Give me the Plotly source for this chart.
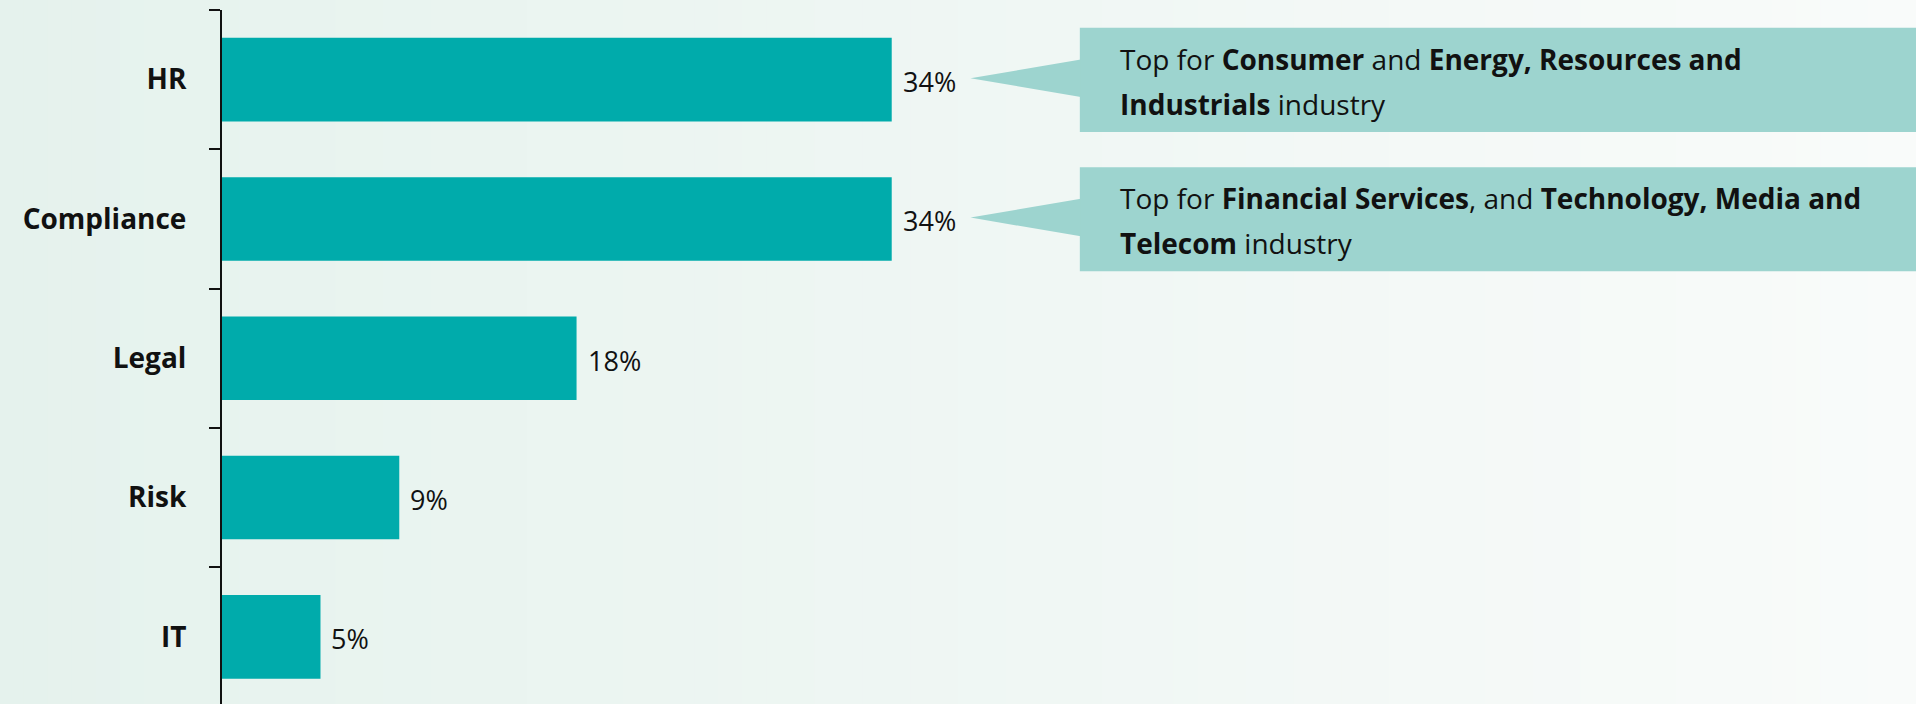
import plotly.graph_objects as go

# Survey results: share of respondents naming each function as owner
categories = ["HR", "Compliance", "Legal", "Risk", "IT"]
shares = [34, 34, 18, 9, 5]

# Callout notes attached to the top two functions (two lines each)
callout_targets = ["HR", "Compliance"]
callout_lines = [
    ["Top for <b>Consumer</b> and <b>Energy, Resources and</b>",
     "<b>Industrials</b> industry"],
    ["Top for <b>Financial Services</b>, and <b>Technology, Media and</b>",
     "<b>Telecom</b> industry"],
]

BAR = "#00abab"
CALLOUT = "#9dd4cf"
FONT = "Open Sans"
W, H = 1916, 704
MARGIN_L = 222
X_MAX = 86.0

fig = go.Figure()
fig.add_trace(go.Bar(
    y=categories, x=shares, orientation="h",
    marker=dict(color=BAR, line=dict(width=0)),
    width=0.6, hoverinfo="skip",
))

shapes = []
# soft left-to-right background wash across the whole page
n_strips = 80
c0 = (229, 242, 237)
c1 = (249, 251, 250)
left = -MARGIN_L / (W - MARGIN_L)
span = 1.0 - left
for i in range(n_strips):
    t = i / (n_strips - 1)
    col = tuple(round(a + (b - a) * t) for a, b in zip(c0, c1))
    shapes.append(dict(
        type="rect", xref="paper", yref="paper", layer="below",
        x0=left + span * i / n_strips,
        x1=left + span * (i + 1) / n_strips + 0.002,
        y0=-0.05, y1=1.05,
        fillcolor=f"rgb{col}", line=dict(width=0),
    ))

annotations = []
# value labels just past the bar ends
for cat, v in zip(categories, shares):
    annotations.append(dict(
        x=v, y=cat, xref="x", yref="y", text=f"{v}%",
        showarrow=False, xanchor="left", yanchor="middle",
        xshift=9, yshift=-2,
        font=dict(family=FONT, size=27, color="#111111"),
    ))

# speech-bubble callouts
box_left, tip_x, text_x = 43.55, 38.0, 45.5
for cat, lines in zip(callout_targets, callout_lines):
    idx = categories.index(cat)
    shapes.append(dict(
        type="rect", xref="x", yref="y",
        x0=box_left, x1=X_MAX + 1, y0=idx - 0.372, y1=idx + 0.375,
        fillcolor=CALLOUT, line=dict(width=0), layer="above",
    ))
    shapes.append(dict(
        type="path", xref="x", yref="y",
        path=(f"M {box_left + 0.05} {idx - 0.145} L {tip_x} {idx - 0.01} "
              f"L {box_left + 0.05} {idx + 0.125} Z"),
        fillcolor=CALLOUT, line=dict(width=0), layer="above",
    ))
    for k, line in enumerate(lines):
        annotations.append(dict(
            x=text_x, y=cat, xref="x", yref="y", text=line,
            showarrow=False, xanchor="left", yanchor="middle",
            yshift=21 if k == 0 else -24,
            font=dict(family=FONT, size=28, color="#111111"),
        ))

fig.update_layout(
    width=W, height=H,
    margin=dict(l=MARGIN_L, r=0, t=10, b=0),
    paper_bgcolor="#eef5f2", plot_bgcolor="rgba(0,0,0,0)",
    showlegend=False, shapes=shapes, annotations=annotations,
    bargap=0.4,
)
fig.update_xaxes(range=[0, X_MAX], visible=False, fixedrange=True)
fig.update_yaxes(
    categoryorder="array", categoryarray=categories,
    range=[4.482, -0.5], autorange=False,
    showline=True, linecolor="#111111", linewidth=2,
    ticks="outside", ticklen=11, tickwidth=2, tickcolor="#111111",
    tickson="boundaries", showgrid=False, zeroline=False,
    ticklabelstandoff=28,
    tickfont=dict(family=FONT, size=28, color="#111111", weight="bold"),
)

fig.write_html("out.html", config={"displayModeBar": False})
